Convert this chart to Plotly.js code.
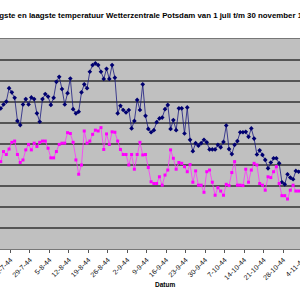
<!DOCTYPE html>
<html>
<head>
<meta charset="utf-8">
<script src="https://cdn.plot.ly/plotly-3.0.1.min.js"></script>
<style>
html,body{margin:0;padding:0;overflow:hidden;background:#fff;width:300px;height:300px;}
#chart{position:absolute;left:-60px;top:0;width:460px;height:300px;}
</style>
</head>
<body>
<div id="chart"></div>
<script>
// First visible day (18 July 1944), one value per day
const firstDay = [1944, 6, 18];
const hoogste = [23.5, 24.4, 25.1, 28.3,
  27.3, 26.0, 20.5, 19.5, 24.4, 25.7, 24.4, 26.1, 25.7, 22.3,
  20.3, 25.7, 26.9, 26.3, 24.3, 26.0, 29.8, 31.0, 28.1, 24.4,
  27.1, 30.6, 23.3, 22.3, 22.7, 27.3, 29.2, 28.3, 32.2, 33.8,
  34.2, 33.8, 32.2, 30.5, 32.9, 30.5, 33.8, 30.8, 22.3, 24.1,
  23.1, 22.5, 23.1, 18.7, 20.5, 25.5, 23.1, 29.2, 21.7, 18.6,
  17.8, 18.3, 20.2, 21.1, 21.3, 23.3, 24.3, 18.6, 20.7, 18.3,
  23.5, 23.5, 17.5, 23.7, 16.0, 13.3, 15.2, 14.6, 15.2, 16.0,
  15.4, 13.7, 13.7, 13.7, 14.8, 14.2, 15.5, 19.4, 13.8, 12.6,
  14.8, 15.7, 17.8, 17.8, 17.9, 16.7, 18.7, 16.3, 12.5, 13.5,
  12.4, 11.2, 9.2, 10.6, 11.6, 11.6, 10.4, 5.9, 5.4, 7.8,
  7.0, 6.6, 8.6, 8.4, 8.6];
const laagste = [10.8, 13.2, 12.5, 13.8,
  15.4, 15.7, 12.5, 10.6, 11.2, 13.6, 14.9, 13.6, 15.2, 14.4,
  15.4, 15.7, 15.7, 14.0, 11.7, 11.7, 13.2, 14.9, 15.2, 15.2,
  17.7, 17.5, 15.4, 11.2, 7.8, 10.0, 18.1, 15.2, 15.7, 17.3,
  18.3, 18.1, 18.9, 13.7, 17.4, 14.9, 17.9, 17.8, 15.7, 13.7,
  12.5, 12.5, 10.0, 12.5, 9.0, 12.5, 15.4, 12.4, 12.5, 9.4,
  6.0, 5.6, 5.6, 7.2, 5.2, 7.6, 8.8, 13.6, 11.6, 9.0,
  10.6, 10.4, 9.6, 8.4, 10.1, 5.9, 8.6, 5.2, 5.2, 3.5,
  8.4, 8.8, 5.9, 2.8, 4.6, 3.8, 2.8, 5.4, 5.1, 8.2,
  10.8, 5.2, 5.2, 5.1, 9.0, 5.9, 8.8, 10.4, 10.0, 5.6,
  5.2, 4.0, 7.2, 7.0, 8.4, 9.6, 5.6, 2.7, 2.7, 1.9,
  4.0, 5.2, 3.8, 3.8, 3.9];
const titel = 'Hoogste en laagste temperatuur Wetterzentrale Potsdam van 1 juli t/m 30 november 1944';
const asTitel = 'Datum';

function pad(n){return (n<10?'0':'')+n;}
const datums = hoogste.map((_, i) => {
  const d = new Date(Date.UTC(firstDay[0], firstDay[1], firstDay[2] + i));
  return d.getUTCFullYear() + '-' + pad(d.getUTCMonth()+1) + '-' + pad(d.getUTCDate()) + ' 12:00';
});

const traces = [
  {x: datums, y: hoogste, type: 'scatter', mode: 'lines+markers', name: 'Hoogste',
   line: {color: '#1a1a80', width: 0.8},
   marker: {symbol: 'diamond', size: 3.6, color: '#000070'}},
  {x: datums, y: laagste, type: 'scatter', mode: 'lines+markers', name: 'Laagste',
   line: {color: '#ff33ff', width: 0.8},
   marker: {symbol: 'square', size: 3, color: '#ff00ff'}}
];

const layout = {
  width: 460, height: 300,
  margin: {l: 12, r: 22, t: 39, b: 51, pad: 0},
  paper_bgcolor: '#ffffff', plot_bgcolor: '#c0c0c0',
  showlegend: false,
  font: {family: 'Arial, "Liberation Sans", sans-serif', color: '#000'},
  xaxis: {type: 'date', range: ['1944-07-01', '1944-12-01'],
    tick0: '1944-07-22', dtick: 7*86400000, tickformat: '%-d-%-m-%y',
    tickangle: -45, tickfont: {size: 7, color: '#111'},
    ticks: 'outside', ticklen: 3, tickcolor: '#555',
    showgrid: false, showline: true, linecolor: '#777', linewidth: 1.2, mirror: true,
    zeroline: false, fixedrange: true},
  yaxis: {range: [-10, 40], dtick: 5, showticklabels: false,
    showgrid: true, gridcolor: '#555555', gridwidth: 1.1,
    zeroline: false, showline: false, ticks: '', fixedrange: true},
  annotations: [
    {text: '<b>' + titel + '</b>', xref: 'paper', yref: 'paper', x: 0.0739, y: 1.114,
     xanchor: 'left', yanchor: 'middle', showarrow: false, borderpad: 0,
     font: {size: 7.85, color: '#000'}},
    {text: '<b>' + asTitel + '</b>', xref: 'paper', yref: 'paper', x: 0.5, y: -0.171,
     xanchor: 'center', yanchor: 'middle', showarrow: false,
     font: {size: 6.5, color: '#000'}}
  ]
};

Plotly.newPlot('chart', traces, layout, {staticPlot: true, displayModeBar: false});
</script>
</body>
</html>
